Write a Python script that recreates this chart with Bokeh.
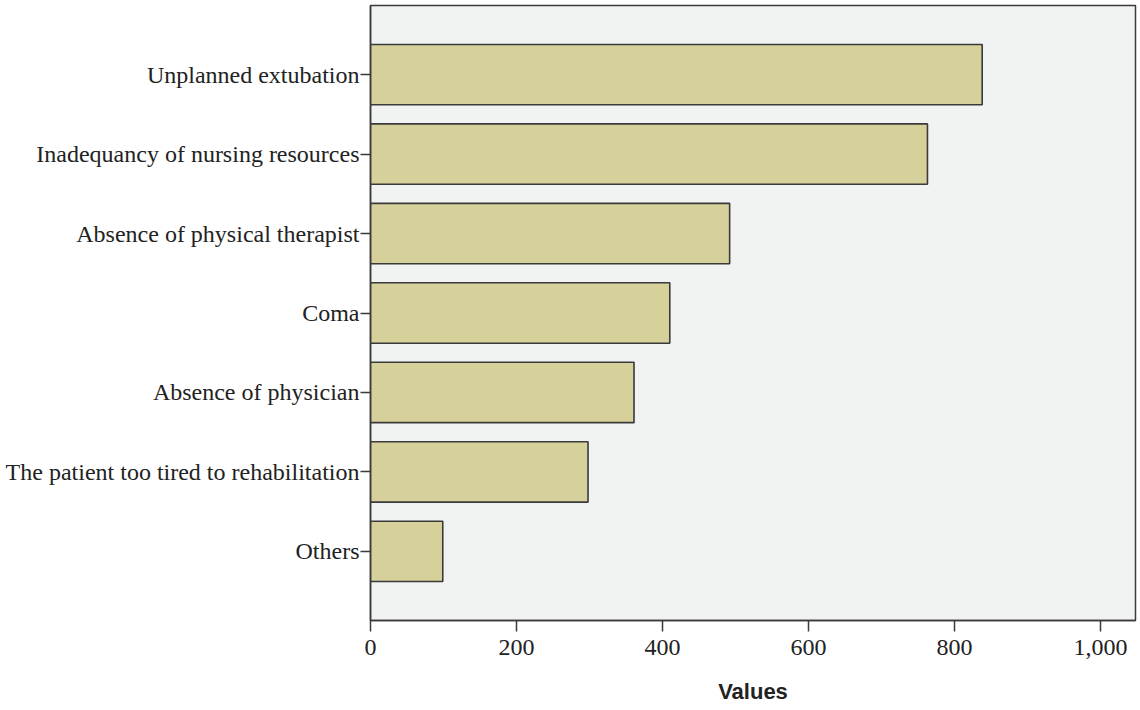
from bokeh.plotting import figure
from bokeh.models import FactorRange, Range1d, FixedTicker, NumeralTickFormatter
from bokeh.embed import file_html
from bokeh.resources import INLINE

categories = [
    "Unplanned extubation",
    "Inadequancy of nursing resources",
    "Absence of physical therapist",
    "Coma",
    "Absence of physician",
    "The patient too tired to rehabilitation",
    "Others",
]
values = [838, 763, 492, 410, 361, 298, 99]
x_ticks = [0, 200, 400, 600, 800, 1000]

factors = list(reversed(categories))

p = figure(
    width=1137, height=706,
    y_range=FactorRange(factors=factors, range_padding=0.37, range_padding_units="absolute"),
    x_range=Range1d(0, 1048),
    output_backend="svg", toolbar_location=None,
    frame_width=765, frame_height=615,
    min_border_left=370, min_border_right=2, min_border_top=5, min_border_bottom=86,
)

p.hbar(y=categories, right=values, left=0, height=0.76,
       fill_color="#d6d19b", line_color="#3a3a3a", line_width=1.6)

p.background_fill_color = "#f1f2f2"
p.border_fill_color = "white"
p.outline_line_color = "#3a3a3a"
p.outline_line_width = 1.5
p.grid.visible = False

serif = "Liberation Serif"

yax = p.yaxis[0]
yax.major_label_text_font = serif
yax.major_label_text_font_size = "24px"
yax.major_label_text_color = "#222222"
yax.major_tick_out = 10
yax.major_tick_in = 0
yax.major_label_standoff = 1
yax.axis_line_color = "#3a3a3a"
yax.axis_line_width = 1.5
yax.major_tick_line_color = "#3a3a3a"
yax.major_tick_line_width = 1.5

xax = p.xaxis[0]
xax.ticker = FixedTicker(ticks=x_ticks)
xax.formatter = NumeralTickFormatter(format="0,0")
xax.minor_tick_line_color = None
xax.major_label_text_font = serif
xax.major_label_text_font_size = "24px"
xax.major_label_text_color = "#222222"
xax.major_tick_out = 11
xax.major_tick_in = 0
xax.major_label_standoff = 8
xax.axis_line_color = "#3a3a3a"
xax.axis_line_width = 1.5
xax.major_tick_line_color = "#3a3a3a"
xax.major_tick_line_width = 1.5
xax.axis_label = "Values"
xax.axis_label_text_font = "Liberation Sans"
xax.axis_label_text_font_style = "bold"
xax.axis_label_text_font_size = "22px"
xax.axis_label_text_color = "#222222"
xax.axis_label_standoff = 21

open("out.html", "w").write(file_html(p, INLINE))
